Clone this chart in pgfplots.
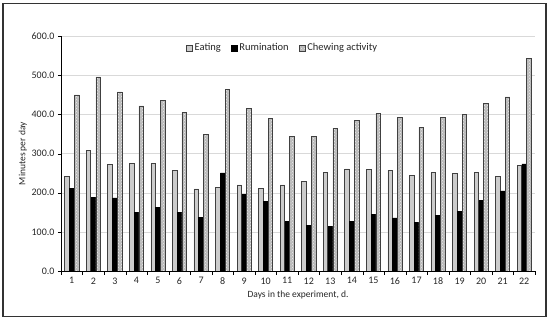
\documentclass[border=0pt]{standalone}
\usepackage{pgfplots}
\pgfplotsset{compat=1.18}
\usepackage{fontspec}
\setmainfont{Carlito}
\usetikzlibrary{patterns}
\begin{document}
\begin{tikzpicture}
\useasboundingbox (-61pt,-49pt) rectangle (489pt,271pt);
\draw[line width=1.6pt, black!80] (-58pt,-45.5pt) rectangle (485pt,267.5pt);
\begin{axis}[
  scale only axis,
  width=474pt, height=234.7pt,
  ymin=0, ymax=600,
  xmin=0.5, xmax=22.5,
  ybar=0.2pt, bar width=4.6pt,
  axis lines=left,
  axis line style={-, black},
  xtick={1,...,22},
  minor xtick={0.5,1.5,...,22.5},
  major x tick style={draw=none},
  minor x tick style={black},
  minor tick length=4pt,
  ytick={0,100,...,600},
  major y tick style={black},
  tick align=outside,
  major tick length=3pt,
  ymajorgrids,
  grid style={gray!30},
  yticklabel style={/pgf/number format/.cd, fixed, fixed zerofill, precision=1, assume math mode=true},
  xticklabel style={/pgf/number format/assume math mode=true},
  tick label style={font=\fontsize{10}{12}\selectfont, text=black!85},
  ylabel={Minutes per day},
  xlabel={Days in the experiment, d.},
  label style={font=\fontsize{9.5}{11}\selectfont, text=black!85},
  ylabel style={yshift=-2pt},
  legend style={at={(0.257,0.95)}, anchor=west, draw=none, fill=none,
    legend columns=-1, font=\fontsize{10.5}{12}\selectfont, text=black!85,
    /tikz/every even column/.append style={column sep=8pt}},
  legend image code/.code={\draw[#1] (0pt,-3pt) rectangle (6pt,3pt);},
]
\addplot[fill=gray!40, draw=black!75, line width=0.7pt] coordinates {
(1,241)(2,308)(3,272)(4,274)(5,274)(6,257)(7,210)(8,214)(9,220)(10,212)(11,220)
(12,228)(13,251)(14,261)(15,259)(16,257)(17,245)(18,251)(19,250)(20,251)(21,241)(22,270)};
\addplot[fill=black, draw=black, line width=0.5pt] coordinates {
(1,212)(2,188)(3,187)(4,150)(5,163)(6,149)(7,138)(8,251)(9,196)(10,178)(11,126)
(12,116)(13,114)(14,127)(15,145)(16,136)(17,125)(18,142)(19,152)(20,180)(21,205)(22,274)};
\addplot[fill=gray!55, draw=black!75, line width=0.6pt,
  postaction={pattern=crosshatch dots, pattern color=gray!15}] coordinates {
(1,450)(2,496)(3,458)(4,422)(5,437)(6,405)(7,350)(8,465)(9,416)(10,390)(11,345)
(12,344)(13,365)(14,386)(15,403)(16,392)(17,368)(18,392)(19,401)(20,429)(21,445)(22,543)};
\legend{Eating, Rumination, Chewing activity}
\end{axis}
\end{tikzpicture}
\end{document}
